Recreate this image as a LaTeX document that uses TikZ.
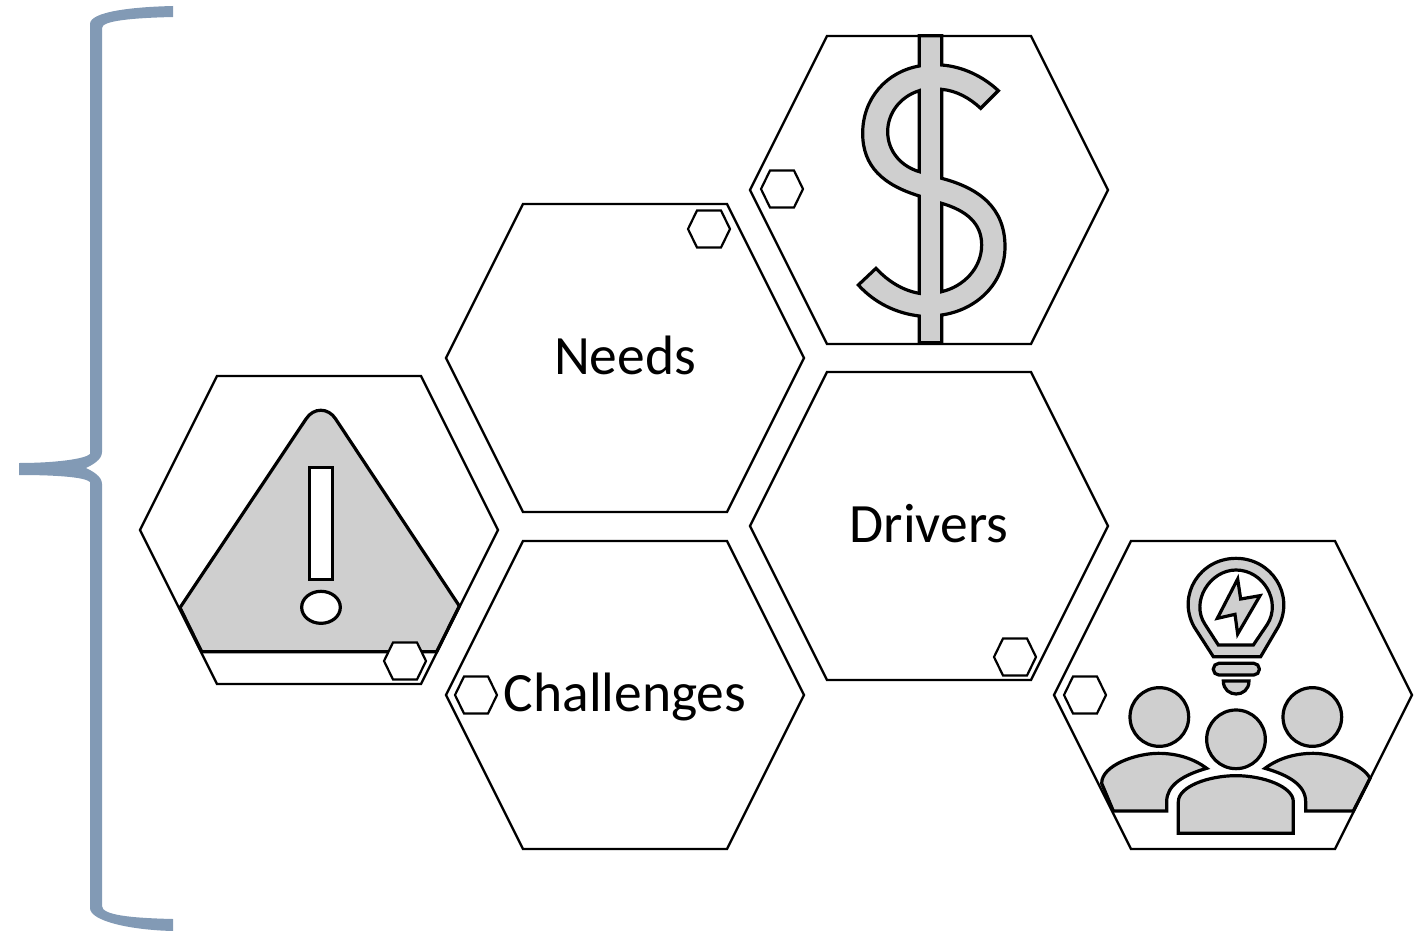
\documentclass[tikz,border=0pt]{standalone}
\usepackage{fontspec}
\setmainfont{Carlito}
\definecolor{bracecol}{HTML}{829AB5}
\definecolor{icongray}{HTML}{CFCFCF}
\tikzset{
  hexline/.style={draw=black,line width=2.4pt,fill=white,line join=miter},
  smallhex/.style={draw=black,line width=2.2pt,fill=white},
  iconline/.style={draw=black,line width=3.2pt,fill=icongray,line join=miter},
  iconwhite/.style={draw=black,line width=3.2pt,fill=white},
  label/.style={font=\fontsize{55.5}{60}\selectfont,inner sep=0pt,text=black}
}
\newcommand{\bighex}[2]{\draw[hexline] (#1-179,#2) -- (#1-102,#2-154) -- (#1+102,#2-154) -- (#1+179,#2) -- (#1+102,#2+154) -- (#1-102,#2+154) -- cycle;}
\newcommand{\tinyhex}[2]{\draw[smallhex] (#1-21,#2) -- (#1-12,#2-18.5) -- (#1+12,#2-18.5) -- (#1+21,#2) -- (#1+12,#2+18.5) -- (#1-12,#2+18.5) -- cycle;}
\begin{document}
\begin{tikzpicture}[x=1pt,y=-1pt]
\useasboundingbox (0,0) rectangle (1425,931);
% brace
\fill[bracecol] (173,6) .. controls (130,7) and (90,12) .. (90,24) -- (90,454)
  .. controls (85,459) and (55,463) .. (19,463) -- (19,475)
  .. controls (55,475) and (85,477) .. (90,482) -- (90,908)
  .. controls (90,921) and (130,930) .. (173,931) -- (173,919)
  .. controls (130,918) and (102,915) .. (102,906) -- (102,484)
  .. controls (102,476) and (92,471) .. (86,468)
  .. controls (92,465) and (102,460) .. (102,452) -- (102,28)
  .. controls (102,21) and (130,18) .. (173,17) -- cycle;
% big hexagons
\bighex{929}{190}
\bighex{625}{358}
\bighex{929}{526}
\bighex{625}{695}
\bighex{319}{530}
\bighex{1233}{695}
% dollar
\begin{scope}[shift={(740,20)},scale=1/3]
\draw[iconline,even odd rule] (605,47) -- (605,135)
  .. controls (670,140) and (730,170) .. (775,212) -- (722,265)
  .. controls (690,235) and (650,212) .. (605,208) -- (605,475)
  .. controls (720,505) and (795,565) .. (795,680)
  .. controls (795,790) and (710,870) .. (605,885) -- (605,968) -- (538,968) -- (538,888)
  .. controls (470,880) and (405,850) .. (355,795) -- (408,745)
  .. controls (445,785) and (490,812) .. (538,820) -- (538,528)
  .. controls (430,495) and (368,440) .. (368,340)
  .. controls (368,235) and (440,155) .. (538,138) -- (538,47) -- cycle
  (538,212) .. controls (480,230) and (443,280) .. (443,335)
  .. controls (443,395) and (485,440) .. (538,455) -- cycle
  (605,550) .. controls (680,572) and (725,610) .. (725,675)
  .. controls (725,745) and (670,800) .. (605,815) -- cycle;
\end{scope}
% warning
\begin{scope}[shift={(130,370)},scale=1/3]
\draw[iconline] (150,713) -- (528,147) .. controls (550,112) and (595,112) .. (617,147) -- (988,708) -- (920,845) -- (215,845) -- cycle;
\draw[hexline] (150,713) -- (215,845);
\draw[hexline] (988,708) -- (920,845);
\draw[iconwhite] (538,293) rectangle (608,628);
\draw[iconwhite] (573,712) ellipse [x radius=58,y radius=48];
\end{scope}
% people
\begin{scope}[shift={(1050,535)},scale=1/3]
\draw[iconline] (632,365) -- (490,365) -- (432,275)
  .. controls (380,180) and (450,70) .. (558,70)
  .. controls (665,70) and (735,180) .. (685,275) -- cycle;
\draw[iconwhite] (610,330) -- (505,330) -- (465,268)
  .. controls (420,200) and (480,105) .. (558,105)
  .. controls (640,105) and (695,200) .. (652,268) -- cycle;
\draw[iconline] (563,132) -- (502,250) -- (555,238) -- (563,297) -- (630,182) -- (572,192) -- cycle;
\draw[iconline,rounded corners=5.5pt] (490,385) rectangle (628,420);
\draw[iconline] (520,438) -- (597,438) .. controls (597,490) and (520,490) .. (520,438) -- cycle;
\draw[iconline] (328,546) circle [radius=88];
\draw[iconline] (558,613) circle [radius=88];
\draw[iconline] (787,546) circle [radius=88];
\draw[iconline] (155,745) -- (190,828) -- (350,828) -- (350,800)
  .. controls (350,750) and (400,720) .. (470,700)
  .. controls (430,670) and (380,655) .. (325,655)
  .. controls (260,655) and (155,690) .. (155,745) -- cycle;
\draw[iconline] (960,730) -- (910,828) -- (767,828) -- (767,800)
  .. controls (767,750) and (715,720) .. (645,700)
  .. controls (685,670) and (735,655) .. (790,655)
  .. controls (855,655) and (940,690) .. (960,730) -- cycle;
\draw[hexline] (155,745) -- (190,828);
\draw[hexline] (960,730) -- (910,828);
\draw[iconline] (385,895) -- (730,895) -- (730,800)
  .. controls (730,755) and (640,722) .. (558,722)
  .. controls (475,722) and (385,755) .. (385,800) -- cycle;
\end{scope}
% small hexagons
\tinyhex{782}{189}
\tinyhex{709}{229}
\tinyhex{405}{661}
\tinyhex{476}{695}
\tinyhex{1015}{657}
\tinyhex{1085}{695}
% labels
\node[label] (needs) at (625,355) {Needs};
\node[label] (drivers) at (929,524) {Drivers};
\node[label] (challenges) at (625,697) {Challenges};
\end{tikzpicture}
\end{document}
